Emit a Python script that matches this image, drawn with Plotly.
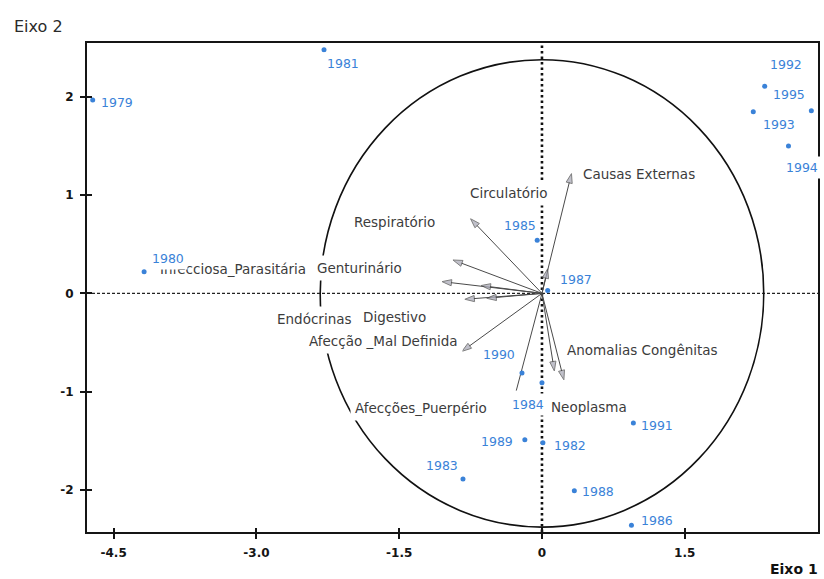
import plotly.graph_objects as go

# ---- Variable loadings (causes of death) on Eixo 1 / Eixo 2 ----
vec_x = [0.31, 0.06, -0.75, -0.935, -1.05, -0.64, -0.81, -0.58, -0.84, -0.27, 0.13, 0.23]
vec_y = [1.22, 0.25, 0.76, 0.34, 0.12, 0.08, -0.06, -0.05, -0.59, -0.99, -0.79, -0.88]
vec_head = [True, True, True, True, True, True, True, True, True, False, True, True]

# ---- Year scores ----
years = ["1979", "1981", "1980", "1992", "1995", "1993", "1994", "1985", "1987",
         "1990", "1984", "1991", "1989", "1982", "1983", "1988", "1986"]
score_x = [-4.72, -2.29, -4.18, 2.34, 2.83, 2.22, 2.59, -0.05, 0.06,
           -0.21, 0.00, 0.96, -0.18, 0.01, -0.83, 0.34, 0.94]
score_y = [1.97, 2.48, 0.22, 2.11, 1.86, 1.85, 1.50, 0.54, 0.03,
           -0.81, -0.91, -1.32, -1.49, -1.52, -1.89, -2.01, -2.36]
# label offsets from each point, in pixels (dx right, dy up)
year_dx = [24, 19, 24, 21, -22, 26, 14, -17, 28, -23, -14, 24, -28, 27, -21, 24, 26]
year_dy = [-3, -14, 13, 22, 16, -13, -21, 15, 11, 18, -22, -2, -2, -3, 13, -1, 5]

# ---- Variable names and where their labels sit ----
var_names = ["Causas Externas", "Circulatório", "Respiratório", "Infecciosa_Parasitária",
             "Genturinário", "Endócrinas", "Digestivo", "Afecção _Mal Definida",
             "Anomalias Congênitas", "Neoplasma", "Afecções_Puerpério"]
var_lab_x = [0.38, -0.35, -1.55, -2.43, -1.92, -2.39, -1.55, -1.67, 1.06, 0.49, -1.275]
var_lab_y = [1.22, 1.02, 0.73, 0.25, 0.26, -0.26, -0.24, -0.485, -0.577, -1.157, -1.167]
var_lab_anchor = ["left", "center", "center", "right", "center", "center", "center",
                  "center", "center", "center", "center"]

# ---- Axes ----
x_ticks = [-4.5, -3.0, -1.5, 0.0, 1.5]
x_tick_text = ["-4.5", "-3.0", "-1.5", "0", "1.5"]
y_ticks = [-2, -1, 0, 1, 2]
y_tick_text = ["-2", "-1", "0", "1", "2"]
X_RANGE = [-4.78, 2.90]
Y_RANGE = [-2.43, 2.55]
CIRCLE_R = (2.33, 2.38)

BLUE = "#3a82d8"
LABEL_FONT = dict(family="DejaVu Sans", size=13.5, color="#3c3c3c")
YEAR_FONT = dict(family="DejaVu Sans", size=12.5, color=BLUE)

fig = go.Figure()

# arrows from the origin
for vx, vy, head in zip(vec_x, vec_y, vec_head):
    fig.add_trace(go.Scatter(
        x=[0, vx], y=[0, vy], mode="lines+markers",
        line=dict(color="#4a4a4a", width=1),
        marker=dict(symbol="arrow", size=[0, 10 if head else 0], angleref="previous",
                    color="#a6a6b4", line=dict(color="#4a4a4a", width=1)),
        hoverinfo="skip", showlegend=False))

# year points
fig.add_trace(go.Scatter(
    x=score_x, y=score_y, mode="markers",
    marker=dict(color=BLUE, size=5),
    text=years, hoverinfo="text", showlegend=False))

# invisible trace so the overlay axes (inner half of the cross ticks) render
fig.add_trace(go.Scatter(x=[None], y=[None], xaxis="x2", yaxis="y2",
                         showlegend=False, hoverinfo="skip"))

shapes = [
    dict(type="circle", xref="x", yref="y", layer="below",
         x0=-CIRCLE_R[0], x1=CIRCLE_R[0], y0=-CIRCLE_R[1], y1=CIRCLE_R[1],
         line=dict(color="#111111", width=1.6)),
    dict(type="line", xref="paper", yref="y", x0=0, x1=1, y0=0, y1=0, layer="below",
         line=dict(color="#222222", width=1.2, dash="3px,2px")),
    dict(type="line", xref="x", yref="paper", x0=0, x1=0, y0=0, y1=1, layer="below",
         line=dict(color="#111111", width=2.6, dash="2.5px,3px")),
]

annotations = []
for name, lx, ly, anc in zip(var_names, var_lab_x, var_lab_y, var_lab_anchor):
    annotations.append(dict(x=lx, y=ly, xref="x", yref="y", text=name, showarrow=False,
                            xanchor=anc, yanchor="middle", font=LABEL_FONT,
                            bgcolor="white", borderpad=4))
for yr, sx, sy, dx, dy in zip(years, score_x, score_y, year_dx, year_dy):
    annotations.append(dict(x=sx, y=sy, xref="x", yref="y", text=yr, showarrow=False,
                            xshift=dx, yshift=dy, xanchor="center", yanchor="middle",
                            font=YEAR_FONT, bgcolor="white", borderpad=3))

annotations.append(dict(x=-0.103, y=1.033, xref="paper", yref="paper", text="Eixo 2",
                        showarrow=False, xanchor="left", yanchor="middle",
                        font=dict(family="DejaVu Sans", size=16, color="#2a2a2a")))
annotations.append(dict(x=1.0027, y=-0.0757, xref="paper", yref="paper", text="Eixo 1",
                        showarrow=False, xanchor="right", yanchor="middle",
                        font=dict(family="DejaVu Sans", size=14, color="#111111",
                                  weight="bold")))

tick_font = dict(family="DejaVu Sans", size=12, color="#151515", weight="bold")

fig.update_layout(
    width=824, height=579,
    margin=dict(l=87, r=4, t=43, b=47),
    paper_bgcolor="white", plot_bgcolor="white",
    shapes=shapes, annotations=annotations,
    xaxis=dict(range=X_RANGE, tickvals=x_ticks, ticktext=x_tick_text,
               showgrid=False, zeroline=False, showline=True, mirror=True,
               linecolor="#151515", linewidth=2, ticks="outside", ticklen=5,
               tickwidth=2, tickcolor="#151515", tickfont=tick_font,
               ticklabelstandoff=4),
    yaxis=dict(range=Y_RANGE, tickvals=y_ticks, ticktext=y_tick_text,
               showgrid=False, zeroline=False, showline=True, mirror=True,
               linecolor="#151515", linewidth=2, ticks="outside", ticklen=5,
               tickwidth=2, tickcolor="#151515", tickfont=tick_font,
               ticklabelstandoff=4),
    xaxis2=dict(range=X_RANGE, tickvals=x_ticks, overlaying="x", anchor="y2",
                side="bottom", showticklabels=False, showgrid=False, zeroline=False,
                showline=False, ticks="inside", ticklen=4, tickwidth=2,
                tickcolor="#151515"),
    yaxis2=dict(range=Y_RANGE, tickvals=y_ticks, overlaying="y", anchor="x2",
                side="left", showticklabels=False, showgrid=False, zeroline=False,
                showline=False, ticks="inside", ticklen=5, tickwidth=2,
                tickcolor="#151515"),
)

fig.write_html("out.html")
